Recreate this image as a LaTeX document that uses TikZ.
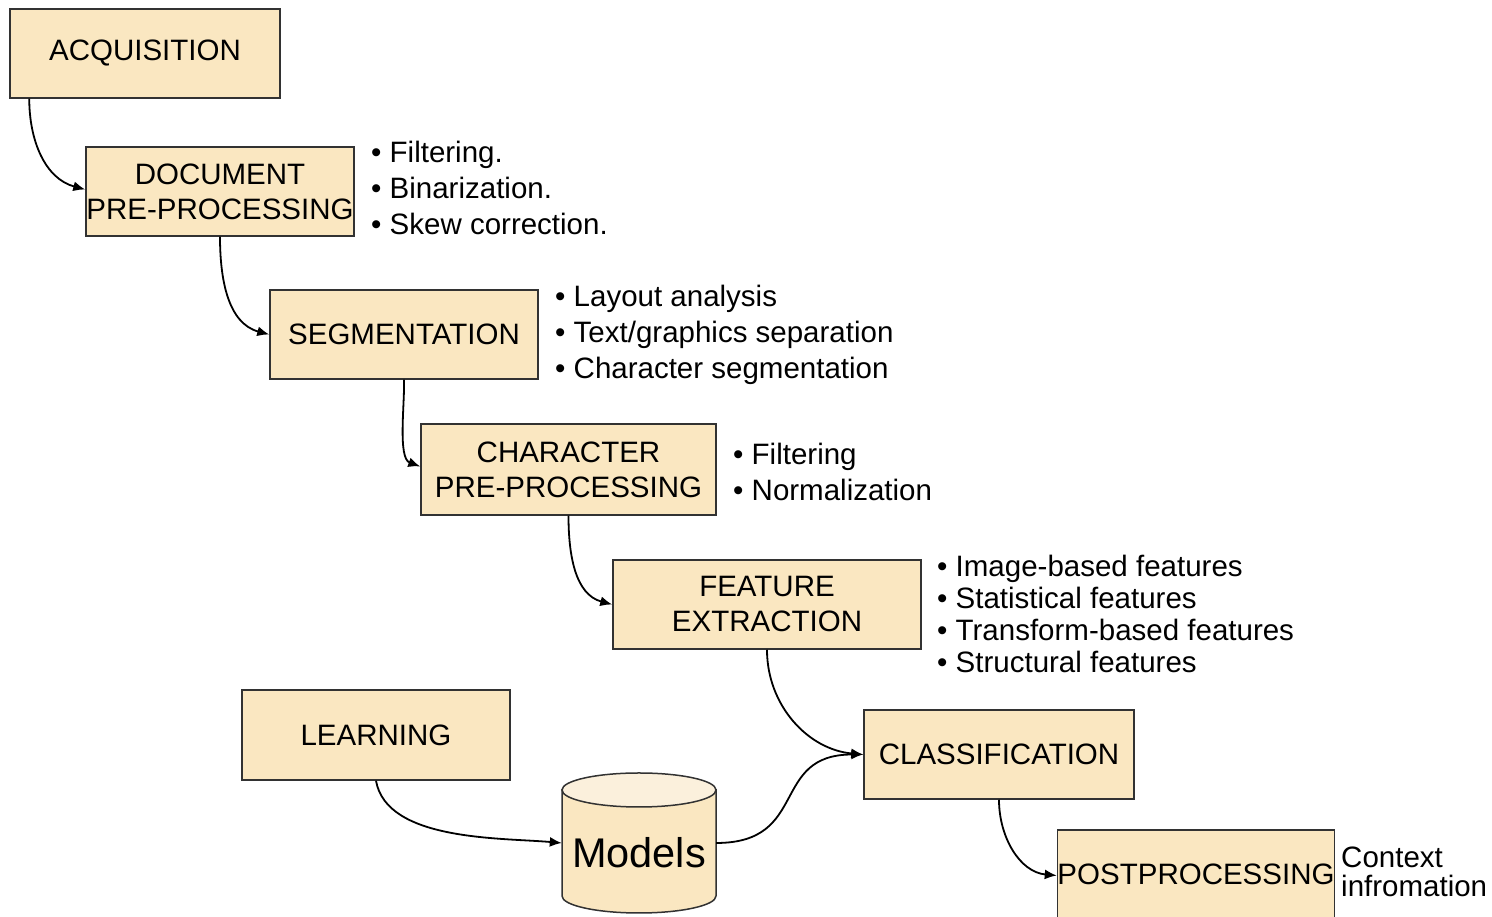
\documentclass[tikz,border=0pt]{standalone}
\usepackage{fontspec}
\setmainfont{Liberation Sans}
\usetikzlibrary{arrows.meta}
\definecolor{boxfill}{RGB}{250,231,193}
\definecolor{topfill}{RGB}{251,240,220}
\definecolor{boxline}{RGB}{50,50,50}
\begin{document}
\begin{tikzpicture}[x=1pt,y=1pt,
  stage/.style={draw=boxline,fill=boxfill,line width=1.5pt,inner sep=0pt,align=center,
    font=\fontsize{29.5}{35}\selectfont},
  bullets/.style={anchor=west,align=left,inner sep=0pt,font=\fontsize{29.5}{36}\selectfont},
  flow/.style={draw=black,line width=1.8pt,-{Latex[length=12pt,width=10pt]}}]
\useasboundingbox (0,0) rectangle (1492,917);
\fill[white] (0,0) rectangle (1492,917);
% stages
\node[stage,minimum width=270,minimum height=89] (acq) at (145,863.5) {ACQUISITION};
\node[stage,minimum width=268,minimum height=89] (doc) at (220,725.5) {DOCUMENT\\PRE-PROCESSING};
\node[stage,minimum width=268,minimum height=89] (seg) at (404,582.5) {SEGMENTATION};
\node[stage,minimum width=295,minimum height=91] (char) at (568.5,447.5) {CHARACTER\\PRE-PROCESSING};
\node[stage,minimum width=308,minimum height=89] (feat) at (767,312.5) {FEATURE\\EXTRACTION};
\node[stage,minimum width=268,minimum height=90] (learn) at (376,182) {LEARNING};
\node[stage,minimum width=270,minimum height=89] (class) at (999,162.5) {CLASSIFICATION};
\node[stage,minimum width=270,minimum height=89] (post) at (1196,42.5) {POSTPROCESSING};
% cylinder
\filldraw[fill=boxfill,draw=boxline,line width=1.5pt]
  (562,127) -- (562,21) arc[start angle=180,end angle=360,x radius=77,y radius=17] -- (716,127) -- cycle;
\filldraw[fill=topfill,draw=boxline,line width=1.5pt] (639,127) ellipse[x radius=77,y radius=17];
\node[inner sep=0pt,minimum width=154,font=\fontsize{41.5}{48}\selectfont] (models) at (639,64) {Models};
% bullet lists
\node[bullets] (docl) at (371,729.5) {\textbullet\ Filtering.\\\textbullet\ Binarization.\\\textbullet\ Skew correction.};
\node[bullets] (segl) at (555,582.5) {\textbullet\ Layout analysis\\\textbullet\ Text/graphics separation\\\textbullet\ Character segmentation};
\node[bullets] (charl) at (733,445) {\textbullet\ Filtering\\\textbullet\ Normalization};
\node[bullets,font=\fontsize{29.5}{32}\selectfont] (featl) at (937,303) {\textbullet\ Image-based features\\\textbullet\ Statistical features\\\textbullet\ Transform-based features\\\textbullet\ Structural features};
\node[bullets,font=\fontsize{29.5}{29}\selectfont] (postl) at (1341,45.5) {Context\\infromation};
% connectors
\draw[flow] ([xshift=20pt]acq.south west) to[out=-90,in=165] ([yshift=2pt]doc.west);
\draw[flow] (doc.south) to[out=-90,in=165] (seg.west);
\draw[flow] (seg.south) to[out=-88,in=160,looseness=0.7] ([yshift=3pt]char.west);
\draw[flow] (char.south) to[out=-90,in=165] (feat.west);
\draw[flow] (feat.south) to[out=-90,in=175] (class.west);
\draw[flow] (learn.south) to[out=-80,in=175,looseness=0.8] ([yshift=10pt]models.west);
\draw[flow] ([yshift=10pt]models.east) to[out=0,in=180,looseness=1.4] (class.west);
\draw[flow] (class.south) to[out=-90,in=175] ([yshift=-1pt]post.west);
\end{tikzpicture}
\end{document}
